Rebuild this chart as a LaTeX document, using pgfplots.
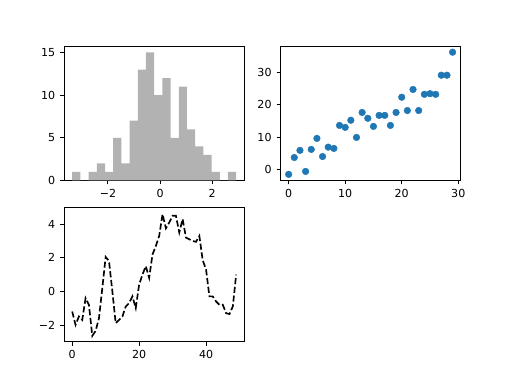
\documentclass[border=0pt]{standalone}
\usepackage{fontspec}
\setmainfont{DejaVu Sans}
\usepackage{pgfplots}
\pgfplotsset{compat=1.18}
\definecolor{mplblue}{HTML}{1F77B4}
\definecolor{histgray}{RGB}{178,178,178}
\pgfplotsset{
  mplstyle/.style={
    scale only axis,
    width=2.2545in, height=1.68in,
    anchor=south west,
    axis line style={line width=0.8pt},
    tick style={line width=0.8pt, black},
    tick align=outside,
    major tick length=3.5pt,
    xtick pos=bottom, ytick pos=left,
    ticklabel style={font=\fontsize{10}{12}\selectfont},
    /pgf/number format/assume math mode=true,
    xticklabel style={yshift=-1pt},
    yticklabel style={xshift=-1pt},
  }
}
\begin{document}
\begin{tikzpicture}
\path (0,0) rectangle (6.4in,4.8in);
% Histogram
\begin{axis}[mplstyle, at={(0.8in,2.544in)},
  xmin=-3.685, xmax=3.2345, ymin=0, ymax=15.75,
  xtick={-2,0,2}, xticklabels={−2,0,2},
  ytick={0,5,10,15}]
\addplot[ybar interval, fill=histgray, draw=none] coordinates {
(-3.37,1) (-3.0555,0) (-2.741,1) (-2.4265,2) (-2.112,1) (-1.7975,5)
(-1.483,2) (-1.1685,7) (-0.854,13) (-0.5395,15) (-0.225,10) (0.0895,12)
(0.404,5) (0.7185,11) (1.033,6) (1.3475,4) (1.662,3) (1.9765,1)
(2.291,0) (2.6055,1) (2.92,1)};
\end{axis}
% Scatter
\begin{axis}[mplstyle, at={(3.5055in,2.544in)},
  xmin=-1.45, xmax=30.45, ymin=-3.39, ymax=38.09,
  xtick={0,10,20,30}, ytick={0,10,20,30}]
\addplot[only marks, mark=*, mark size=3pt, mark options={fill=mplblue, draw=mplblue}] coordinates {
(0,-1.5) (1,3.7) (2,5.9) (3,-0.6) (4,6.2) (5,9.6) (6,4.0) (7,6.9) (8,6.5) (9,13.6)
(10,13.0) (11,15.2) (12,9.9) (13,17.6) (14,15.8) (15,13.3) (16,16.7) (17,16.7) (18,13.6) (19,17.6)
(20,22.3) (21,18.2) (22,24.7) (23,18.2) (24,23.2) (25,23.4) (26,23.2) (27,29.1) (28,29.1) (29,36.2)};
\end{axis}
% Line
\begin{axis}[mplstyle, at={(0.8in,0.528in)},
  xmin=-2.45, xmax=51.45, ymin=-3.0, ymax=5.0,
  xtick={0,20,40}, ytick={-2,0,2,4}, yticklabels={−2,0,2,4}]
\addplot[black, line width=1.5pt, dash pattern=on 5.55pt off 2.4pt] coordinates {
(0,-1.2) (1,-2.0) (2,-1.5) (3,-1.7) (4,-0.4) (5,-0.8) (6,-2.65) (7,-2.35) (8,-1.6) (9,0.2)
(10,2.05) (11,1.8) (12,0.0) (13,-1.9) (14,-1.7) (15,-1.5) (16,-0.9) (17,-0.7) (18,-0.3) (19,-1.0)
(20,0.4) (21,1.0) (22,1.5) (23,0.8) (24,2.2) (25,2.7) (26,3.3) (27,4.6) (28,3.75) (29,4.1)
(30,4.5) (31,4.5) (32,3.5) (33,4.3) (34,3.2) (35,3.1) (36,3.0) (37,2.95) (38,3.3) (39,1.85)
(40,1.3) (41,-0.3) (42,-0.3) (43,-0.6) (44,-0.8) (45,-0.8) (46,-1.3) (47,-1.35) (48,-0.9) (49,1.0)};
\end{axis}
\end{tikzpicture}
\end{document}
